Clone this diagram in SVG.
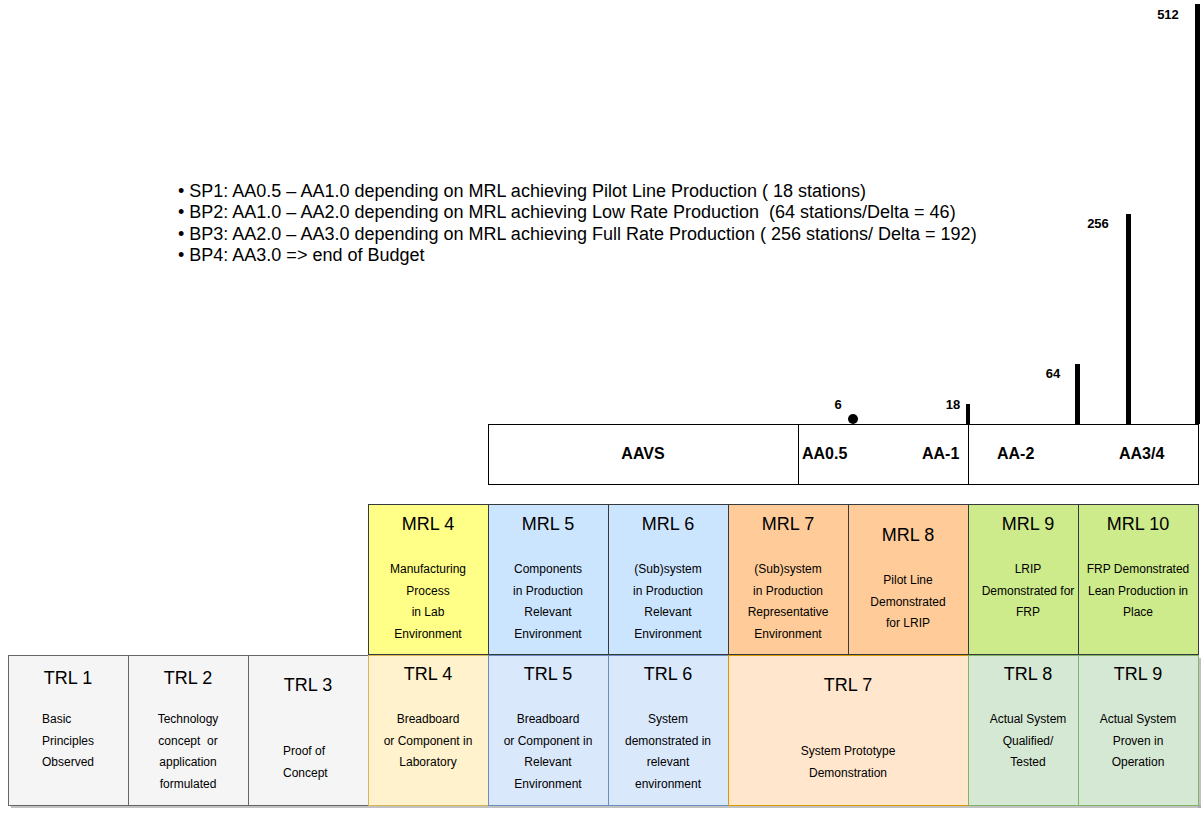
<svg xmlns="http://www.w3.org/2000/svg" width="1203" height="818" viewBox="0 0 1203 818">
<style>
text{font-family:"Liberation Sans",Arial,sans-serif;fill:#000;white-space:pre}
.t{font-size:18px;text-anchor:middle}
.d{font-size:12px;text-anchor:middle}
.dl{font-size:12px}
.b{font-size:18px}
.aa{font-size:16px;font-weight:bold}
.n{font-size:13px;font-weight:bold;text-anchor:middle}
.box{stroke:#000;stroke-width:1}
.shadow{fill:#999;opacity:0.6}
</style>
<rect width="1203" height="818" fill="#fff"/>
<g id="bullets">
<text class="b" x="178" y="197" xml:space="preserve">• SP1: AA0.5 – AA1.0 depending on MRL achieving Pilot Line Production ( 18 stations)</text>
<text class="b" x="178" y="218" xml:space="preserve">• BP2: AA1.0 – AA2.0 depending on MRL achieving Low Rate Production  (64 stations/Delta = 46)</text>
<text class="b" x="178" y="240" xml:space="preserve">• BP3: AA2.0 – AA3.0 depending on MRL achieving Full Rate Production ( 256 stations/ Delta = 192)</text>
<text class="b" x="178" y="261" xml:space="preserve">• BP4: AA3.0 =&gt; end of Budget</text>
</g>
<g id="bars">
<rect x="1195" y="4" width="5" height="420" fill="#000"/>
<rect x="1126" y="214" width="5" height="210" fill="#000"/>
<rect x="1075" y="364" width="5" height="60" fill="#000"/>
<rect x="966" y="404" width="4" height="20" fill="#000"/>
<circle cx="853" cy="419" r="5" fill="#000"/>
<text class="n" x="1168" y="19">512</text>
<text class="n" x="1098" y="228">256</text>
<text class="n" x="1053" y="378">64</text>
<text class="n" x="953" y="409">18</text>
<text class="n" x="838" y="409">6</text>
</g>
<g id="aa">
<rect x="488.5" y="424.5" width="710" height="60" fill="#fff" class="box"/>
<line x1="798.5" y1="424.5" x2="798.5" y2="484.5" stroke="#000"/>
<line x1="968.5" y1="424.5" x2="968.5" y2="484.5" stroke="#000"/>
<text class="aa" x="643" y="459" text-anchor="middle">AAVS</text>
<text class="aa" x="802" y="459">AA0.5</text>
<text class="aa" x="922" y="459">AA-1</text>
<text class="aa" x="997" y="459">AA-2</text>
<text class="aa" x="1119" y="459">AA3/4</text>
</g>
<g id="mrl4"><rect x="368.5" y="504.5" width="120" height="150" fill="#ffff88" stroke="#36393d"/>
<text class="t" x="428" y="530">MRL 4</text>
<text class="d" x="428" y="573">Manufacturing</text><text class="d" x="428" y="595">Process</text><text class="d" x="428" y="616">in Lab</text><text class="d" x="428" y="638">Environment</text></g>
<g id="mrl5"><rect x="488.5" y="504.5" width="120" height="150" fill="#cce5ff" stroke="#36393d"/>
<text class="t" x="548" y="530">MRL 5</text>
<text class="d" x="548" y="573">Components</text><text class="d" x="548" y="595">in Production</text><text class="d" x="548" y="616">Relevant</text><text class="d" x="548" y="638">Environment</text></g>
<g id="mrl6"><rect x="608.5" y="504.5" width="120" height="150" fill="#cce5ff" stroke="#36393d"/>
<text class="t" x="668" y="530">MRL 6</text>
<text class="d" x="668" y="573">(Sub)system</text><text class="d" x="668" y="595">in Production</text><text class="d" x="668" y="616">Relevant</text><text class="d" x="668" y="638">Environment</text></g>
<g id="mrl7"><rect x="728.5" y="504.5" width="120" height="150" fill="#ffcc99" stroke="#36393d"/>
<text class="t" x="788" y="530">MRL 7</text>
<text class="d" x="788" y="573">(Sub)system</text><text class="d" x="788" y="595">in Production</text><text class="d" x="788" y="616">Representative</text><text class="d" x="788" y="638">Environment</text></g>
<g id="mrl8"><rect x="848.5" y="504.5" width="120" height="150" fill="#ffcc99" stroke="#36393d"/>
<text class="t" x="908" y="541">MRL 8</text>
<text class="d" x="908" y="584">Pilot Line</text><text class="d" x="908" y="606">Demonstrated</text><text class="d" x="908" y="627">for LRIP</text></g>
<g id="mrl9"><rect x="968.5" y="504.5" width="110" height="150" fill="#cdeb8b" stroke="#36393d"/>
<text class="t" x="1028" y="530">MRL 9</text>
<text class="d" x="1028" y="573">LRIP</text><text class="d" x="1028" y="595">Demonstrated for</text><text class="d" x="1028" y="616">FRP</text></g>
<g id="mrl10"><rect x="1078.5" y="504.5" width="120" height="150" fill="#cdeb8b" stroke="#36393d"/>
<text class="t" x="1138" y="530">MRL 10</text>
<text class="d" x="1138" y="573">FRP Demonstrated</text><text class="d" x="1138" y="595">Lean Production in</text><text class="d" x="1138" y="616">Place</text></g>
<g id="shadows">
<rect x="11" y="805" width="1190" height="3" class="shadow"/>
<rect x="1198" y="658" width="3" height="150" class="shadow"/>
</g>
<g id="trl1"><rect x="8.5" y="655.5" width="120" height="150" fill="#f5f5f5" stroke="#666"/>
<text class="t" x="68" y="684">TRL 1</text>
<text class="dl" x="42" y="723">Basic</text><text class="dl" x="42" y="745">Principles</text><text class="dl" x="42" y="766">Observed</text></g>
<g id="trl2"><rect x="128.5" y="655.5" width="120" height="150" fill="#f5f5f5" stroke="#666"/>
<text class="t" x="188" y="684">TRL 2</text>
<text class="d" x="188" y="723">Technology</text><text class="d" x="188" y="745" xml:space="preserve">concept  or</text><text class="d" x="188" y="766">application</text><text class="d" x="188" y="788">formulated</text></g>
<g id="trl3"><rect x="248.5" y="655.5" width="120" height="150" fill="#f5f5f5" stroke="#666"/>
<text class="t" x="308" y="691">TRL 3</text>
<text class="dl" x="283" y="755">Proof of</text><text class="dl" x="283" y="777">Concept</text></g>
<g id="trl4"><rect x="368.5" y="655.5" width="120" height="150" fill="#fff2cc" stroke="#d6b656"/>
<text class="t" x="428" y="680">TRL 4</text>
<text class="d" x="428" y="723">Breadboard</text><text class="d" x="428" y="745">or Component in</text><text class="d" x="428" y="766">Laboratory</text></g>
<g id="trl5"><rect x="488.5" y="655.5" width="120" height="150" fill="#dae8fc" stroke="#6c8ebf"/>
<text class="t" x="548" y="680">TRL 5</text>
<text class="d" x="548" y="723">Breadboard</text><text class="d" x="548" y="745">or Component in</text><text class="d" x="548" y="766">Relevant</text><text class="d" x="548" y="788">Environment</text></g>
<g id="trl6"><rect x="608.5" y="655.5" width="120" height="150" fill="#dae8fc" stroke="#6c8ebf"/>
<text class="t" x="668" y="680">TRL 6</text>
<text class="d" x="668" y="723">System</text><text class="d" x="668" y="745">demonstrated in</text><text class="d" x="668" y="766">relevant</text><text class="d" x="668" y="788">environment</text></g>
<g id="trl7"><rect x="728.5" y="655.5" width="240" height="150" fill="#ffe6cc" stroke="#d79b00"/>
<text class="t" x="848" y="691">TRL 7</text>
<text class="d" x="848" y="755">System Prototype</text><text class="d" x="848" y="777">Demonstration</text></g>
<g id="trl8"><rect x="968.5" y="655.5" width="110" height="150" fill="#d5e8d4" stroke="#82b366"/>
<text class="t" x="1028" y="680">TRL 8</text>
<text class="d" x="1028" y="723">Actual System</text><text class="d" x="1028" y="745">Qualified/</text><text class="d" x="1028" y="766">Tested</text></g>
<g id="trl9"><rect x="1078.5" y="655.5" width="120" height="150" fill="#d5e8d4" stroke="#82b366"/>
<text class="t" x="1138" y="680">TRL 9</text>
<text class="d" x="1138" y="723">Actual System</text><text class="d" x="1138" y="745">Proven in</text><text class="d" x="1138" y="766">Operation</text></g>
</svg>
